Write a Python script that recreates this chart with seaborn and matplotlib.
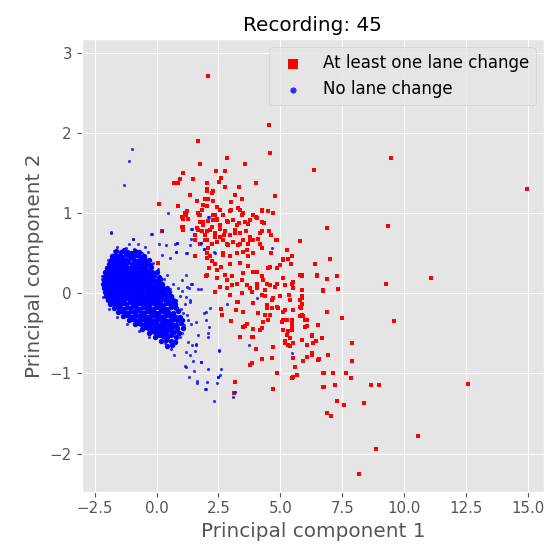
import numpy as np
import pandas as pd
import seaborn as sns
import matplotlib.pyplot as plt

# PCA projection of recording 45
lane_change = [
    (2.09, 2.71), (4.55, 2.10), (4.58, 1.75), (1.67, 1.90), (2.83, 1.69), (1.74, 1.61), (3.57, 1.61),
    (2.39, 1.52), (2.76, 1.52), (1.08, 1.50), (2.59, 1.44), (1.46, 1.42), (0.71, 1.38), (0.88, 1.37),
    (2.53, 1.39), (2.03, 1.38), (4.00, 1.38), (3.34, 1.32), (2.76, 1.32), (2.04, 1.28), (2.29, 1.27),
    (1.35, 1.23), (3.18, 1.23), (4.78, 1.21), (2.09, 1.18), (3.45, 1.17), (1.62, 1.15), (2.27, 1.15),
    (2.99, 1.14), (0.10, 1.11), (0.88, 1.09), (2.03, 1.09), (2.43, 1.08), (1.82, 1.04), (2.95, 1.02),
    (3.37, 1.04), (1.22, 1.02), (4.24, 1.04), (4.49, 1.02), (4.71, 1.00), (1.73, 0.98), (2.36, 0.98),
    (2.56, 1.04), (3.48, 1.00), (3.91, 0.98), (1.18, 0.98), (2.09, 0.90), (2.27, 0.91), (2.45, 0.93),
    (1.08, 0.93), (4.02, 0.95), (1.89, 0.89), (2.83, 0.90), (3.34, 0.87), (3.70, 0.86), (4.24, 0.89),
    (1.08, 0.82), (1.69, 0.79), (2.23, 0.83), (2.56, 0.80), (3.17, 0.75), (3.60, 0.77), (0.23, 0.77),
    (4.55, 0.77), (4.18, 0.75), (4.85, 0.67), (5.79, 0.65), (1.55, 0.73), (2.03, 0.77), (1.96, 0.66),
    (2.36, 0.70), (2.72, 0.73), (2.83, 0.62), (3.37, 0.62), (3.77, 0.66), (4.18, 0.62), (5.25, 0.54),
    (5.46, 0.46), (1.55, 0.46), (2.03, 0.44), (2.70, 0.48), (3.24, 0.50), (3.64, 0.54),
    (0.95, 1.42), (2.05, 1.30), (2.23, 1.25), (1.96, 1.17), (1.86, 1.10), (3.01, 1.04), (3.30, 1.06),
    (1.76, 0.98), (1.02, 0.95), (1.15, 1.00), (1.28, 0.92), (1.69, 1.00), (1.76, 0.89), (1.89, 0.85),
    (2.29, 0.98), (2.43, 0.91), (2.56, 0.85), (2.70, 0.98), (2.90, 0.89), (3.10, 0.91), (3.24, 0.85),
    (3.44, 0.98), (3.57, 0.89), (3.77, 0.91), (1.02, 0.83), (1.08, 0.79), (1.62, 0.81), (1.82, 0.77),
    (1.96, 0.73), (2.16, 0.79), (2.36, 0.75), (2.56, 0.70), (2.76, 0.77), (2.97, 0.73), (3.17, 0.79),
    (3.37, 0.75), (3.77, 0.70), (1.55, 0.66), (1.76, 0.62), (2.03, 0.66), (2.23, 0.61), (2.43, 0.64),
    (2.70, 0.66), (2.90, 0.60), (3.10, 0.64), (3.30, 0.60), (3.50, 0.66), (3.70, 0.62), (3.88, 0.66),
    (2.03, 0.50), (2.16, 0.46), (2.70, 0.50), (2.97, 0.46), (3.50, 0.52), (3.70, 0.46),
    (3.91, 0.50), (4.26, 1.03), (4.04, 0.94), (6.89, 0.81), (4.34, 0.87), (4.25, 0.77), (4.61, 0.73),
    (4.81, 0.66), (3.84, 0.66), (4.11, 0.68), (4.25, 0.56), (4.61, 0.50), (5.12, 0.43), (7.00, 0.43),
    (0.05, 0.38), (2.09, 0.56), (2.36, 0.37), (2.03, 0.23), (2.43, 0.19), (2.83, 0.16), (3.03, 0.21),
    (3.50, 0.25), (3.91, 0.27), (4.25, 0.21), (4.58, 0.33), (4.98, 0.35), (5.32, 0.43), (5.46, 0.12),
    (5.79, 0.23), (2.37, 0.01), (2.83, 0.06), (3.24, 0.12), (3.64, 0.10), (4.04, 0.12), (4.45, 0.12),
    (4.85, 0.12), (3.44, 0.00), (3.84, 0.02), (4.25, -0.02), (4.65, -0.08), (4.98, -0.04), (5.39, -0.08),
    (5.79, -0.08), (3.24, -0.11), (2.62, -0.20), (3.21, -0.21), (3.50, -0.24), (4.45, -0.19), (4.58, -0.27),
    (4.92, -0.19), (5.12, -0.23), (5.52, -0.21), (5.86, -0.27), (3.57, -0.41), (3.88, -0.44), (4.25, -0.43),
    (4.51, -0.33), (5.12, -0.33), (5.46, -0.33), (5.12, -0.46), (5.46, -0.46), (5.79, -0.29), (3.91, -0.55),
    (4.71, -0.67), (5.19, -0.62), (5.39, -0.66), (5.86, -0.58), (4.25, -0.82), (4.65, -0.81), (5.52, -0.81),
    (6.06, -0.79), (3.77, -0.89), (4.85, -0.99), (5.52, -1.04), (5.66, -1.02), (3.17, -1.11), (4.71, -1.19),
    (2.13, 0.31), (2.43, 0.29), (2.00, 0.22), (2.76, 0.23), (3.03, 0.10), (3.44, 0.16), (3.77, 0.06),
    (3.30, -0.11), (2.63, -0.27), (3.50, -0.42), (3.64, -0.38), (3.84, -0.54), (3.14, -1.24),
    (5.12, 0.41), (5.42, 0.37), (6.40, 0.37), (4.04, 0.27), (4.51, 0.31), (4.85, 0.31), (5.12, 0.19),
    (5.52, 0.14), (5.86, 0.21), (6.46, 0.22), (6.89, 0.18), (4.31, 0.16), (4.58, 0.10), (4.04, 0.06),
    (4.38, 0.04), (4.78, 0.08), (5.19, 0.10), (5.52, 0.06), (5.86, 0.04), (6.73, 0.04), (5.36, -0.02),
    (5.86, -0.04), (4.38, -0.04), (4.71, -0.06), (4.45, -0.15), (4.65, -0.19), (4.85, -0.17), (5.19, -0.21),
    (5.79, -0.17), (4.38, -0.27), (5.86, -0.29), (5.99, -0.33), (6.87, -0.23), (4.31, -0.36), (5.05, -0.36),
    (5.25, -0.33), (5.46, -0.38), (6.06, -0.41), (6.53, -0.40), (4.18, -0.46), (5.32, -0.47), (5.46, -0.43),
    (5.25, -0.52), (5.39, -0.56), (6.26, -0.52), (6.67, -0.56), (5.19, -0.60), (5.32, -0.64), (5.52, -0.62),
    (6.06, -0.65), (6.33, -0.62), (5.92, -0.85), (6.26, -0.77), (6.53, -0.83), (6.93, -0.77), (3.84, -0.87),
    (5.59, -0.92), (4.85, -1.00), (5.46, -1.06), (6.73, -1.00), (7.14, -1.00), (6.73, -1.17), (7.20, -1.14),
    (5.86, 0.23), (6.49, 0.23), (7.30, 0.21), (9.26, 0.12), (11.08, 0.19), (6.71, 0.03), (7.34, 0.05),
    (5.86, -0.06), (5.86, -0.13), (5.83, -0.19), (5.92, -0.28), (6.06, -0.33), (7.50, -0.31), (9.60, -0.35),
    (5.99, -0.42), (6.29, -0.53), (6.42, -0.60), (7.90, -0.62), (6.26, -0.75), (6.06, -0.80), (6.56, -0.82),
    (7.90, -0.85), (6.76, -1.00), (7.64, -0.99), (7.84, -1.06), (6.76, -1.17), (8.64, -1.15), (8.98, -1.14),
    (12.56, -1.13), (7.30, -1.35), (7.57, -1.40), (8.37, -1.37), (6.89, -1.50), (7.03, -1.53), (10.57, -1.78),
    (8.86, -1.94), (8.17, -2.25), (9.45, 1.69), (6.34, 1.54), (14.94, 1.30), (9.35, 0.84),
    (2.25, 0.40), (2.60, 0.33), (2.95, 0.36), (3.35, 0.38), (3.70, 0.34), (2.55, 0.08), (2.95, -0.02),
    (3.90, -0.12), (4.10, -0.25), (3.00, -0.35), (3.35, -0.55), (4.00, -0.70),
]

# sparse blue points outside the dense blob
no_change_sparse = [
    (-0.98, 1.80), (-1.11, 1.65), (-1.32, 1.35), (0.46, 1.00), (-1.85, 0.76), (-0.22, 0.74), (-0.96, 0.68),
    (0.23, 0.77), (1.42, 0.80), (0.83, 0.63), (1.38, 0.68), (1.80, 0.63), (2.11, 0.95), (1.19, 0.50),
    (1.93, 0.55), (2.33, 0.52), (4.65, 0.56), (-1.84, 0.75), (-0.94, 0.68), (-0.19, 0.74), (-1.11, 0.61),
    (-0.73, 0.62), (-1.70, 0.53), (-1.30, 0.51), (-0.46, 0.58), (-0.33, 0.52), (0.10, 0.61), (0.38, 0.60),
    (0.75, 0.62), (0.77, 0.51), (1.22, 0.50), (1.35, 0.60), (0.21, 0.48), (0.54, 0.44), (-2.19, 0.21),
    (-2.08, 0.02), (0.41, 0.23), (0.68, 0.12), (1.02, 0.16), (1.22, 0.08), (1.42, 0.12), (0.95, -0.04),
    (1.15, -0.13), (1.35, -0.08), (0.82, -0.29), (1.08, -0.25), (1.28, -0.33), (0.61, -0.46), (0.88, -0.42),
    (0.27, -0.54), (0.75, -0.54), (1.19, 0.23), (1.40, 0.11), (1.66, 0.05), (1.80, 0.05), (1.32, 0.06),
    (1.03, 0.03), (0.87, 0.06), (1.18, -0.05), (0.79, -0.08), (1.35, -0.11), (2.16, -0.18), (2.00, -0.23),
    (1.93, -0.25), (2.86, -0.14), (1.24, -0.27), (1.58, -0.36), (1.40, -0.38), (1.99, -0.34), (2.13, -0.42),
    (2.08, -0.50), (2.09, -0.54), (1.67, -0.52), (1.02, -0.50), (0.79, -0.46), (0.79, -0.60), (0.72, -0.77),
    (1.28, -0.61), (1.44, -0.64), (1.59, -0.65), (1.55, -0.72), (1.35, -0.77), (1.19, -0.73), (2.53, -0.72),
    (1.46, -0.84), (1.15, -0.91), (1.80, -0.86), (2.09, -0.95), (2.59, -0.94), (1.51, -0.97), (1.32, -1.04),
    (2.56, -1.02), (2.47, -1.05), (1.65, -1.10), (2.03, -1.11), (2.43, -1.12), (1.96, -1.20), (3.74, -0.65),
    (1.63, -1.12), (2.00, -1.19), (2.48, -1.04), (2.33, -1.34), (3.08, -1.29), (3.16, -1.23), (1.18, -0.92),
    (1.81, -0.86), (2.53, -0.71), (1.59, -0.63), (5.47, -0.75), (4.07, -0.06), (2.09, 0.95), (1.40, 0.80),
    (0.82, 0.63), (1.78, 0.63), (1.92, 0.55), (0.77, 0.51), (2.36, 0.50),
    (-2.20, 0.18), (-2.05, 0.33), (-1.95, 0.42), (-1.60, 0.58), (-1.25, 0.57), (-0.90, 0.55), (-0.60, 0.50),
    (-0.15, 0.38), (0.05, 0.30), (0.30, 0.18), (0.55, 0.05), (0.80, -0.10), (1.00, -0.20), (1.12, -0.40),
    (0.95, -0.55), (0.60, -0.70), (0.35, -0.62), (-0.30, -0.55), (-0.70, -0.47), (-1.20, -0.38),
    (-1.60, -0.30), (-1.90, -0.20), (-2.15, -0.05),
]

# dense blue blob around (-1, 0)
no_change_core = [
    (-1.62, 0.53), (-1.45, 0.51), (-1.31, 0.54), (-1.18, 0.52), (-1.02, 0.50), (-0.88, 0.53), (-0.71, 0.51),
    (-1.78, 0.46), (-1.66, 0.48), (-1.52, 0.47), (-1.39, 0.45), (-1.24, 0.49), (-1.11, 0.47), (-0.97, 0.46),
    (-0.83, 0.48), (-0.66, 0.45), (-0.52, 0.47),
    (-1.85, 0.41), (-1.71, 0.43), (-1.58, 0.42), (-1.46, 0.40), (-1.33, 0.43), (-1.19, 0.41), (-1.05, 0.44),
    (-0.92, 0.42), (-0.79, 0.40), (-0.63, 0.43), (-0.48, 0.41), (-0.31, 0.42),
    (-1.93, 0.36), (-1.80, 0.38), (-1.67, 0.37), (-1.53, 0.35), (-1.41, 0.38), (-1.27, 0.36), (-1.14, 0.39),
    (-1.01, 0.37), (-0.87, 0.35), (-0.74, 0.38), (-0.60, 0.36), (-0.44, 0.37), (-0.28, 0.35),
    (-2.00, 0.31), (-1.88, 0.33), (-1.74, 0.32), (-1.61, 0.30), (-1.48, 0.33), (-1.35, 0.31), (-1.22, 0.34),
    (-1.08, 0.32), (-0.95, 0.30), (-0.82, 0.33), (-0.68, 0.31), (-0.55, 0.32), (-0.41, 0.30), (-0.22, 0.33),
    (-2.06, 0.26), (-1.93, 0.28), (-1.80, 0.27), (-1.67, 0.25), (-1.54, 0.28), (-1.41, 0.26), (-1.28, 0.29),
    (-1.15, 0.27), (-1.02, 0.25), (-0.89, 0.28), (-0.76, 0.26), (-0.62, 0.27), (-0.49, 0.25), (-0.35, 0.28),
    (-0.18, 0.26), (0.02, 0.27),
    (-2.10, 0.21), (-1.97, 0.23), (-1.85, 0.22), (-1.72, 0.20), (-1.59, 0.23), (-1.46, 0.21), (-1.33, 0.24),
    (-1.20, 0.22), (-1.07, 0.20), (-0.94, 0.23), (-0.81, 0.21), (-0.68, 0.22), (-0.55, 0.20), (-0.42, 0.23),
    (-0.27, 0.21), (-0.11, 0.22), (0.08, 0.20),
    (-2.13, 0.16), (-2.01, 0.18), (-1.88, 0.17), (-1.76, 0.15), (-1.63, 0.18), (-1.50, 0.16), (-1.37, 0.19),
    (-1.24, 0.17), (-1.11, 0.15), (-0.98, 0.18), (-0.85, 0.16), (-0.72, 0.17), (-0.59, 0.15), (-0.46, 0.18),
    (-0.32, 0.16), (-0.18, 0.17), (-0.03, 0.15), (0.15, 0.18),
    (-2.15, 0.11), (-2.03, 0.13), (-1.90, 0.12), (-1.78, 0.10), (-1.65, 0.13), (-1.52, 0.11), (-1.39, 0.14),
    (-1.26, 0.12), (-1.13, 0.10), (-1.00, 0.13), (-0.87, 0.11), (-0.74, 0.12), (-0.61, 0.10), (-0.48, 0.13),
    (-0.35, 0.11), (-0.21, 0.12), (-0.07, 0.10), (0.08, 0.13), (0.24, 0.11),
    (-2.12, 0.06), (-2.00, 0.08), (-1.87, 0.07), (-1.75, 0.05), (-1.62, 0.08), (-1.49, 0.06), (-1.36, 0.09),
    (-1.23, 0.07), (-1.10, 0.05), (-0.97, 0.08), (-0.84, 0.06), (-0.71, 0.07), (-0.58, 0.05), (-0.45, 0.08),
    (-0.32, 0.06), (-0.18, 0.07), (-0.04, 0.05), (0.11, 0.08), (0.27, 0.06), (0.42, 0.07),
    (-2.08, 0.01), (-1.95, 0.03), (-1.83, 0.02), (-1.70, 0.00), (-1.57, 0.03), (-1.44, 0.01), (-1.31, 0.04),
    (-1.18, 0.02), (-1.05, 0.00), (-0.92, 0.03), (-0.79, 0.01), (-0.66, 0.02), (-0.53, 0.00), (-0.40, 0.03),
    (-0.27, 0.01), (-0.13, 0.02), (0.01, 0.00), (0.16, 0.03), (0.32, 0.01), (0.50, 0.02),
    (-2.02, -0.04), (-1.90, -0.02), (-1.77, -0.03), (-1.64, -0.05), (-1.51, -0.02), (-1.38, -0.04),
    (-1.25, -0.01), (-1.12, -0.03), (-0.99, -0.05), (-0.86, -0.02), (-0.73, -0.04), (-0.60, -0.03),
    (-0.47, -0.05), (-0.34, -0.02), (-0.20, -0.04), (-0.06, -0.03), (0.08, -0.05), (0.23, -0.02),
    (0.39, -0.04), (0.58, -0.03),
    (-1.95, -0.09), (-1.83, -0.07), (-1.70, -0.08), (-1.57, -0.10), (-1.44, -0.07), (-1.31, -0.09),
    (-1.18, -0.06), (-1.05, -0.08), (-0.92, -0.10), (-0.79, -0.07), (-0.66, -0.09), (-0.53, -0.08),
    (-0.40, -0.10), (-0.26, -0.07), (-0.12, -0.09), (0.02, -0.08), (0.16, -0.10), (0.31, -0.07),
    (0.47, -0.09), (0.66, -0.08),
    (-1.86, -0.14), (-1.74, -0.12), (-1.61, -0.13), (-1.48, -0.15), (-1.35, -0.12), (-1.22, -0.14),
    (-1.09, -0.11), (-0.96, -0.13), (-0.83, -0.15), (-0.70, -0.12), (-0.57, -0.14), (-0.44, -0.13),
    (-0.31, -0.15), (-0.17, -0.12), (-0.03, -0.14), (0.11, -0.13), (0.25, -0.15), (0.40, -0.12),
    (0.56, -0.14), (0.74, -0.13),
    (-1.72, -0.19), (-1.60, -0.17), (-1.47, -0.18), (-1.34, -0.20), (-1.21, -0.17), (-1.08, -0.19),
    (-0.95, -0.16), (-0.82, -0.18), (-0.69, -0.20), (-0.56, -0.17), (-0.43, -0.19), (-0.30, -0.18),
    (-0.16, -0.20), (-0.02, -0.17), (0.12, -0.19), (0.26, -0.18), (0.41, -0.20), (0.57, -0.17), (0.80, -0.19),
    (-1.55, -0.24), (-1.42, -0.22), (-1.29, -0.23), (-1.16, -0.25), (-1.03, -0.22), (-0.90, -0.24),
    (-0.77, -0.21), (-0.64, -0.23), (-0.51, -0.25), (-0.38, -0.22), (-0.25, -0.24), (-0.11, -0.23),
    (0.03, -0.25), (0.17, -0.22), (0.32, -0.24), (0.48, -0.23), (0.66, -0.25), (0.88, -0.22),
    (-1.36, -0.29), (-1.23, -0.27), (-1.10, -0.28), (-0.97, -0.30), (-0.84, -0.27), (-0.71, -0.29),
    (-0.58, -0.26), (-0.45, -0.28), (-0.32, -0.30), (-0.19, -0.27), (-0.05, -0.29), (0.09, -0.28),
    (0.23, -0.30), (0.38, -0.27), (0.54, -0.29), (0.72, -0.28), (0.95, -0.30),
    (-1.12, -0.34), (-0.99, -0.32), (-0.86, -0.33), (-0.73, -0.35), (-0.60, -0.32), (-0.47, -0.34),
    (-0.34, -0.31), (-0.21, -0.33), (-0.08, -0.35), (0.06, -0.32), (0.20, -0.34), (0.34, -0.33),
    (0.49, -0.35), (0.65, -0.32), (0.83, -0.34), (1.02, -0.33),
    (-0.88, -0.39), (-0.75, -0.37), (-0.62, -0.38), (-0.49, -0.40), (-0.36, -0.37), (-0.23, -0.39),
    (-0.10, -0.36), (0.03, -0.38), (0.17, -0.40), (0.31, -0.37), (0.46, -0.39), (0.62, -0.38),
    (0.79, -0.40), (0.98, -0.37),
    (-0.60, -0.44), (-0.47, -0.42), (-0.34, -0.43), (-0.21, -0.45), (-0.08, -0.42), (0.05, -0.44),
    (0.19, -0.41), (0.33, -0.43), (0.48, -0.45), (0.64, -0.42), (0.82, -0.44), (1.05, -0.43),
    (-0.32, -0.49), (-0.18, -0.47), (-0.05, -0.48), (0.09, -0.50), (0.23, -0.47), (0.38, -0.49),
    (0.54, -0.46), (0.71, -0.48), (0.92, -0.50),
    (-0.05, -0.54), (0.10, -0.52), (0.26, -0.53), (0.42, -0.55), (0.60, -0.52), (0.80, -0.54),
    (0.20, -0.60), (0.38, -0.58), (0.57, -0.59), (0.76, -0.61), (0.42, -0.66), (0.63, -0.64),
]

labels = ["At least one lane change", "No lane change"]
x_ticks = [-2.5, 0.0, 2.5, 5.0, 7.5, 10.0, 12.5, 15.0]
y_ticks = [-2, -1, 0, 1, 2, 3]

red = pd.DataFrame(lane_change, columns=["pc1", "pc2"])
sparse = pd.DataFrame(no_change_sparse, columns=["pc1", "pc2"])
core = pd.DataFrame(no_change_core, columns=["pc1", "pc2"])

plt.style.use("ggplot")
fig = plt.figure(figsize=(5.44, 5.54), dpi=100)
ax = fig.add_axes([0.1502, 0.1125, 0.8498, 0.817])

sns.scatterplot(data=red, x="pc1", y="pc2", color="red", marker="s", s=11,
                linewidth=0, label=labels[0], ax=ax)
sns.scatterplot(data=core, x="pc1", y="pc2", color="blue", marker="o", s=15,
                linewidth=0, alpha=1.0, ax=ax)
sns.scatterplot(data=sparse, x="pc1", y="pc2", color="blue", marker="o", s=5,
                linewidth=0, alpha=0.8, label=labels[1], ax=ax)

ax.set_xlim(-3.02, 15.64)
ax.set_ylim(-2.475, 3.17)
ax.set_xticks(x_ticks)
ax.set_yticks(y_ticks)
ax.tick_params(labelsize=10.8)
ax.set_xlabel("Principal component 1", fontsize=14.4)
ax.set_ylabel("Principal component 2", fontsize=14.4)
ax.set_title("Recording: 45", fontsize=14.4, color="black")
ax.legend(loc="upper right", markerscale=2.0, fontsize=12)

fig.savefig("out.png", dpi=100)
